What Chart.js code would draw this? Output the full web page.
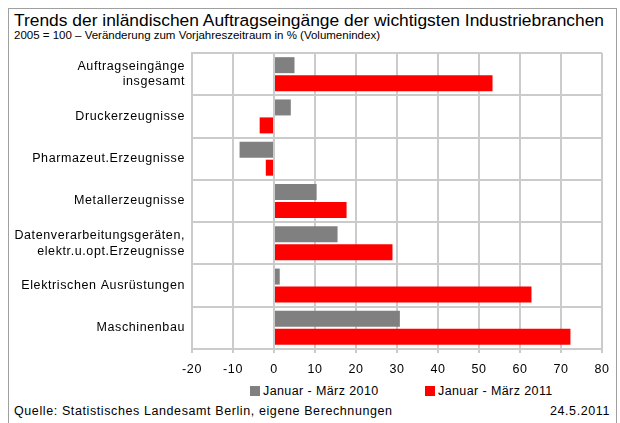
<!DOCTYPE html>
<html>
<head>
<meta charset="utf-8">
<script src="https://cdn.jsdelivr.net/npm/chart.js@4"></script>
<style>
  body { margin: 0; width: 620px; height: 423px; background: #fff; position: relative; overflow: hidden; font-family: "Liberation Sans", Arial, sans-serif; color: #000; }
  #frame { position: absolute; left: 8px; top: 8px; width: 609px; height: 430px; border: 1px solid #a0a0a0; box-sizing: border-box; }
  .txt { position: absolute; white-space: nowrap; line-height: 1; }
  #title { left: 14px; top: 12px; font-size: 17.4px; }
  #subtitle { left: 14px; top: 30px; font-size: 11.5px; }
  #source { left: 14px; top: 405px; font-size: 12.5px; letter-spacing: 0.6px; }
  #date { right: 10px; top: 405px; font-size: 12.5px; letter-spacing: 0.6px; }
  #chartBox { position: absolute; left: 8px; top: 46px; width: 612px; height: 334px; }
  #legend { position: absolute; top: 385px; left: 0; font-size: 12.5px; letter-spacing: 0.4px; }
  .leg { position: absolute; top: 0; white-space: nowrap; line-height: 12px; }
  .leg i { display: inline-block; width: 10px; height: 10px; vertical-align: -1px; margin-right: 3px; }
</style>
</head>
<body>
<div id="frame"></div>
<div class="txt" id="title">Trends der inländischen Auftragseingänge der wichtigsten Industriebranchen</div>
<div class="txt" id="subtitle">2005 = 100 – Veränderung zum Vorjahreszeitraum in % (Volumenindex)</div>
<div id="chartBox"><canvas id="chart"></canvas></div>
<div id="legend"></div>
<div class="txt" id="source">Quelle: Statistisches Landesamt Berlin, eigene Berechnungen</div>
<div class="txt" id="date">24.5.2011</div>
<script>
// categories (multi-line labels as arrays)
const categories = [
  ['Auftragseingänge', 'insgesamt'],
  'Druckerzeugnisse',
  'Pharmazeut.Erzeugnisse',
  'Metallerzeugnisse',
  ['Datenverarbeitungsgeräten,', 'elektr.u.opt.Erzeugnisse'],
  'Elektrischen Ausrüstungen',
  'Maschinenbau'
]
const seriesLabels = ['Januar - März 2010', 'Januar - März 2011']
const values2010 = [5.0, 4.1, -8.4, 10.4, 15.5, 1.4, 30.7]
const values2011 = [53.3, -3.5, -2.0, 17.7, 28.9, 62.8, 72.3]
const xMin = -20
const xMax = 80
const xStep = 10

const gray = '#808080'
const red = '#ff0000'
const gridColor = '#cbcbcb'
const font = '"Liberation Sans", Arial, sans-serif'

// the source chart has slightly spaced-out lettering
const spacing = {
  id: 'spacing',
  beforeDraw: (c) => { c.ctx.letterSpacing = '0.6px' }
}

const chart = new Chart(document.getElementById('chart'), {
  type: 'bar',
  data: {
    labels: categories,
    datasets: [
      { label: seriesLabels[0], data: values2010, backgroundColor: gray },
      { label: seriesLabels[1], data: values2011, backgroundColor: red }
    ]
  },
  plugins: [spacing],
  options: {
    indexAxis: 'y',
    responsive: true,
    maintainAspectRatio: false,
    animation: false,
    categoryPercentage: 0.85,
    barPercentage: 0.89,
    layout: { padding: { top: 7, right: 18, bottom: 1, left: 0 } },
    plugins: {
      legend: { display: false },
      tooltip: { enabled: false }
    },
    scales: {
      x: {
        min: xMin,
        max: xMax,
        ticks: {
          stepSize: xStep,
          padding: 9,
          color: '#000',
          font: { family: font, size: 12.5 }
        },
        grid: { color: gridColor, lineWidth: 2, tickLength: 4 },
        border: { color: gridColor, width: 2 },
        afterFit: (scale) => { scale.height = 30 }
      },
      y: {
        ticks: {
          padding: 7,
          color: '#000',
          font: { family: font, size: 12.5, lineHeight: 1.25 }
        },
        grid: { color: gridColor, lineWidth: 2, drawTicks: false },
        border: { color: gridColor, width: 2 },
        afterFit: (scale) => {
          scale.width = 184
          scale.paddingTop = 0
          scale.paddingBottom = 0
        }
      }
    }
  }
})

// legend built from the chart's datasets
const legendEl = document.getElementById('legend')
const legendX = [250, 425]
chart.data.datasets.forEach((ds, i) => {
  const item = document.createElement('div')
  item.className = 'leg'
  item.style.left = legendX[i] + 'px'
  item.innerHTML = '<i style="background:' + ds.backgroundColor + '"></i>' + ds.label
  legendEl.appendChild(item)
})
</script>
</body>
</html>
